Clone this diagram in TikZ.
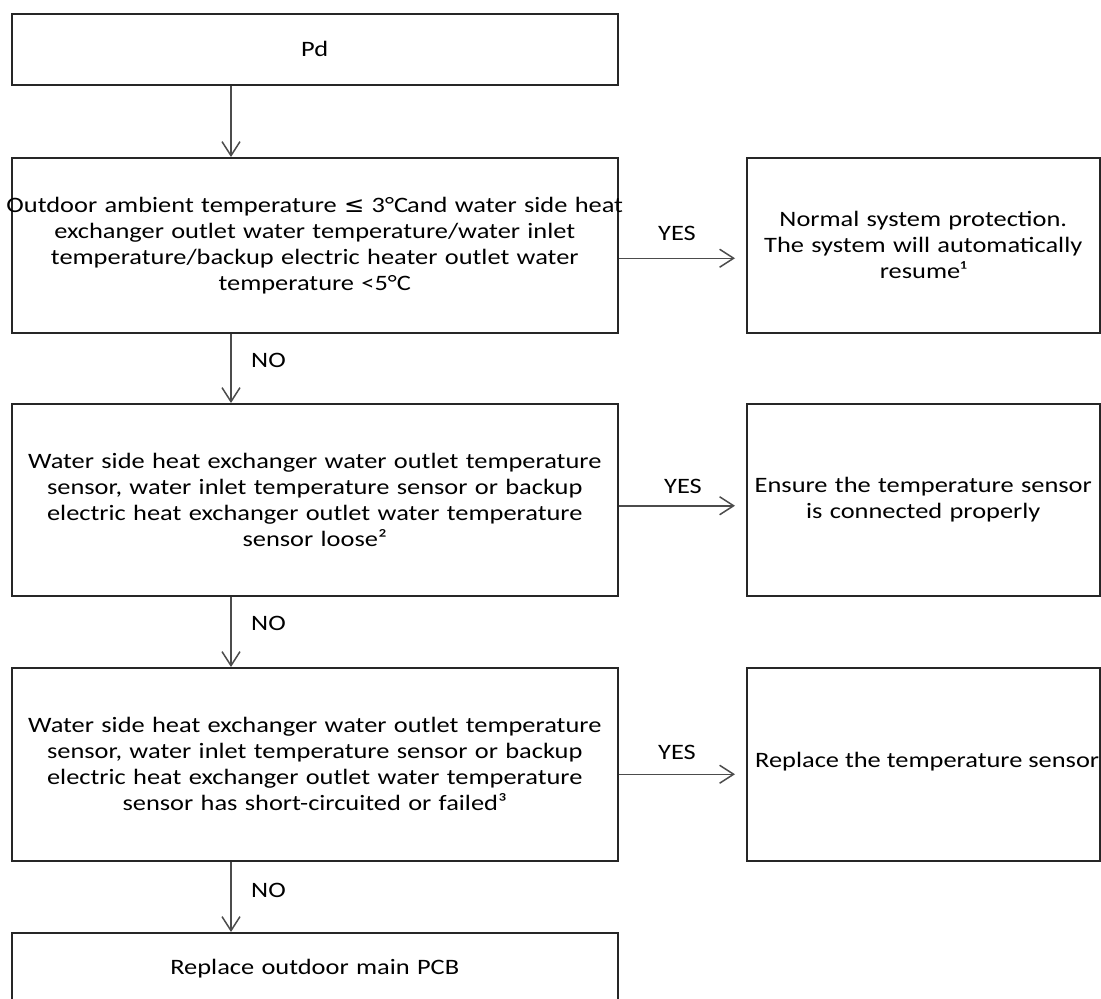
\documentclass[tikz,border=0pt]{standalone}
\usepackage{fontspec}
\setmainfont{Carlito}[FakeStretch=1.2]
\newfontfamily\symfont{DejaVu Sans}[FakeStretch=1.1]
\usetikzlibrary{arrows.meta,calc}
\begin{document}
\begin{tikzpicture}[x=1pt,y=-1pt,
  every node/.style={font=\fontsize{22}{26}\selectfont},
  box/.style={draw=black!85, line width=1.5pt, align=center, inner sep=0pt, anchor=north west},
  lbox/.style={box, text width=606pt, minimum width=606pt},
  rbox/.style={box, text width=353pt, minimum width=353pt},
  arr/.style={draw=black!70, line width=1.5pt, -{Straight Barb[length=14pt,width=18pt]}},
  lbl/.style={inner sep=0pt}]
\useasboundingbox (0,0) rectangle (1101,999);

\node[lbox, minimum height=71pt] (pd) at (11,13) {Pd};
\node[lbox, minimum height=175pt] (b2) at (11,157)
  {\makebox[606pt][c]{Outdoor ambient temperature {\symfont ≤} 3°C{\kern-1pt}and water side heat}\\
   exchanger outlet water temperature/water inlet\\
   temperature/backup electric heater outlet water\\
   temperature <5°C};
\node[rbox, minimum height=175pt] (r1) at (746,157)
  {Normal system protection.\\
   The system will automatically\\
   resume¹};
\node[lbox, minimum height=192pt] (b3) at (11,403)
  {Water side heat exchanger water outlet temperature\\
   sensor, water inlet temperature sensor or backup\\
   electric heat exchanger outlet water temperature\\
   sensor loose²};
\node[rbox, minimum height=192pt] (r2) at (746,403)
  {Ensure the temperature sensor\\
   is connected properly};
\node[lbox, minimum height=193pt] (b4) at (11,667)
  {Water side heat exchanger water outlet temperature\\
   sensor, water inlet temperature sensor or backup\\
   electric heat exchanger outlet water temperature\\
   sensor has short-circuited or failed³};
\node[rbox, minimum height=193pt] (r3) at (746,667) {};
\node[lbl, anchor=west] (r3t) at (755,762) {Replace the temperature sensor};
\node[lbox, minimum height=72pt] (b5) at (11,932) {Replace outdoor main PCB};

% vertical connectors
\draw[arr] ($(pd.south west)+(220,0)$) -- ($(b2.north west)+(220,0)$);
\draw[arr] ($(b2.south west)+(220,0)$) -- ($(b3.north west)+(220,0)$);
\draw[arr] ($(b3.south west)+(220,0)$) -- ($(b4.north west)+(220,0)$);
\draw[arr] ($(b4.south west)+(220,0)$) -- ($(b5.north west)+(220,0)$);

% horizontal connectors
\draw[arr] ($(b2.east)+(0,13)$) -- ($(r1.west)+(-11,13)$);
\draw[arr] ($(b3.east)+(0,6)$) -- ($(r2.west)+(-11,6)$);
\draw[arr] ($(b4.east)+(0,10)$) -- ($(r3.west)+(-11,10)$);

% labels
\node[lbl, anchor=west] (no1) at (251,360) {NO};
\node[lbl, anchor=west] (no2) at (251,623) {NO};
\node[lbl, anchor=west] (no3) at (251,890) {NO};
\node[lbl] (yes1) at (677,233) {YES};
\node[lbl] (yes2) at (683,486) {YES};
\node[lbl] (yes3) at (677,752) {YES};
\end{tikzpicture}
\end{document}
